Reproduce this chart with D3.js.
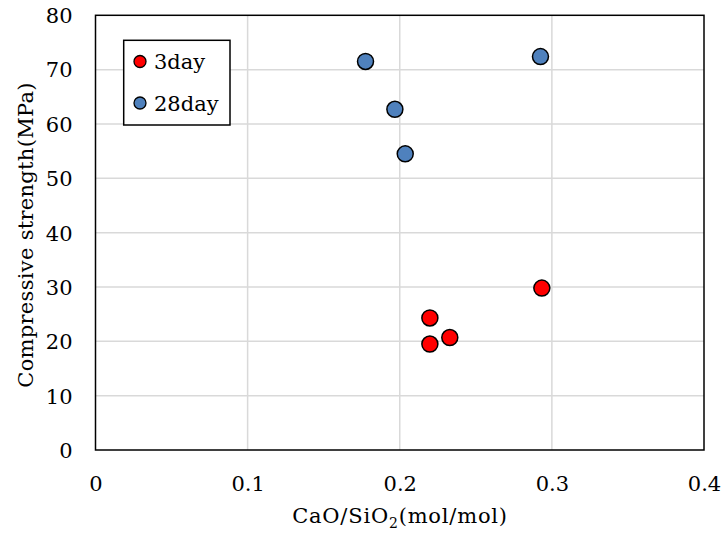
<!DOCTYPE html>
<html><head><meta charset="utf-8">
<script src="https://cdn.jsdelivr.net/npm/d3@7"></script>
<style>body{margin:0;background:#fff}svg{display:block}text{font-family:"DejaVu Serif",serif;fill:#000}</style>
</head><body><div id="chart"></div>
<script>
const xTicks = [0, 0.1, 0.2, 0.3, 0.4];
const yTicks = [0, 10, 20, 30, 40, 50, 60, 70, 80];
const seriesNames = ["3day", "28day"];
const seriesColors = ["#ff0000", "#4f81bd"];
const day3X = [0.2198, 0.2198, 0.2329, 0.2934];
const day3Y = [24.3, 19.5, 20.7, 29.8];
const day28X = [0.1775, 0.1968, 0.2036, 0.2925];
const day28Y = [71.5, 62.7, 54.5, 72.4];

const W = 726, H = 538;
const m = {left: 95.5, right: 22, top: 15.3, bottom: 88};
const svg = d3.select("#chart").append("svg").attr("width", W).attr("height", H);
const x = d3.scaleLinear().domain([0, 0.4]).range([m.left, W - m.right]);
const y = d3.scaleLinear().domain([0, 80]).range([H - m.bottom, m.top]);

// gridlines
svg.append("g").selectAll("line.vx").data(xTicks.slice(1, -1)).join("line")
  .attr("x1", d => x(d)).attr("x2", d => x(d)).attr("y1", y(0)).attr("y2", y(80))
  .attr("stroke", "#d9d9d9").attr("stroke-width", 1.5);
svg.append("g").selectAll("line.hy").data(yTicks.slice(1, -1)).join("line")
  .attr("x1", x(0)).attr("x2", x(0.4)).attr("y1", d => y(d)).attr("y2", d => y(d))
  .attr("stroke", "#d9d9d9").attr("stroke-width", 1.5);

// frame
svg.append("rect").attr("x", x(0)).attr("y", y(80)).attr("width", x(0.4) - x(0)).attr("height", y(0) - y(80))
  .attr("fill", "none").attr("stroke", "#000").attr("stroke-width", 1.5);

// axes
const xAxis = d3.axisBottom(x).tickValues(xTicks).tickSize(0).tickPadding(0).tickFormat(d => d === 0 ? "0" : d3.format(".1f")(d));
const gx = svg.append("g").attr("transform", `translate(0,${y(0)})`).call(xAxis);
gx.select(".domain").remove();
gx.selectAll("text").attr("font-size", 21).attr("dy", 0).attr("y", 41).style("font-family", '"DejaVu Serif",serif');

const yAxis = d3.axisLeft(y).tickValues(yTicks).tickSize(0).tickPadding(0);
const gy = svg.append("g").attr("transform", `translate(${x(0)},0)`).call(yAxis);
gy.select(".domain").remove();
gy.selectAll("text").attr("font-size", 21).attr("x", -23).attr("dy", "0.35em").style("font-family", '"DejaVu Serif",serif');

// titles
const xt = svg.append("text").attr("x", 400).attr("y", 523).attr("text-anchor", "middle").attr("font-size", 21).attr("letter-spacing", 0.8);
xt.append("tspan").text("CaO/SiO");
xt.append("tspan").attr("font-size", 14).attr("dy", 5).text("2");
xt.append("tspan").attr("dy", -5).text("(mol/mol)");

svg.append("text").attr("transform", `translate(33,${235}) rotate(-90)`).attr("text-anchor", "middle")
  .attr("font-size", 21).attr("letter-spacing", 0.3).text("Compressive strength(MPa)");

// points
const series = [
  {xs: day3X, ys: day3Y, c: seriesColors[0]},
  {xs: day28X, ys: day28Y, c: seriesColors[1]}
];
series.forEach(s => {
  svg.append("g").selectAll("circle").data(s.xs.map((v, i) => [v, s.ys[i]])).join("circle")
    .attr("cx", d => x(d[0])).attr("cy", d => y(d[1])).attr("r", 8)
    .attr("fill", s.c).attr("stroke", "#000").attr("stroke-width", 1.5);
});

// legend
const lg = svg.append("g");
lg.append("rect").attr("x", 123.7).attr("y", 40.3).attr("width", 106.3).attr("height", 84.7)
  .attr("fill", "#fff").attr("stroke", "#000").attr("stroke-width", 1.5);
seriesNames.forEach((n, i) => {
  lg.append("circle").attr("cx", 140).attr("cy", 61.5 + i * 41.5).attr("r", 6)
    .attr("fill", seriesColors[i]).attr("stroke", "#000").attr("stroke-width", 1.3);
  lg.append("text").attr("x", 154).attr("y", 61.5 + i * 41.5).attr("dy", "0.36em").attr("font-size", 21).text(n);
});
</script></body></html>
